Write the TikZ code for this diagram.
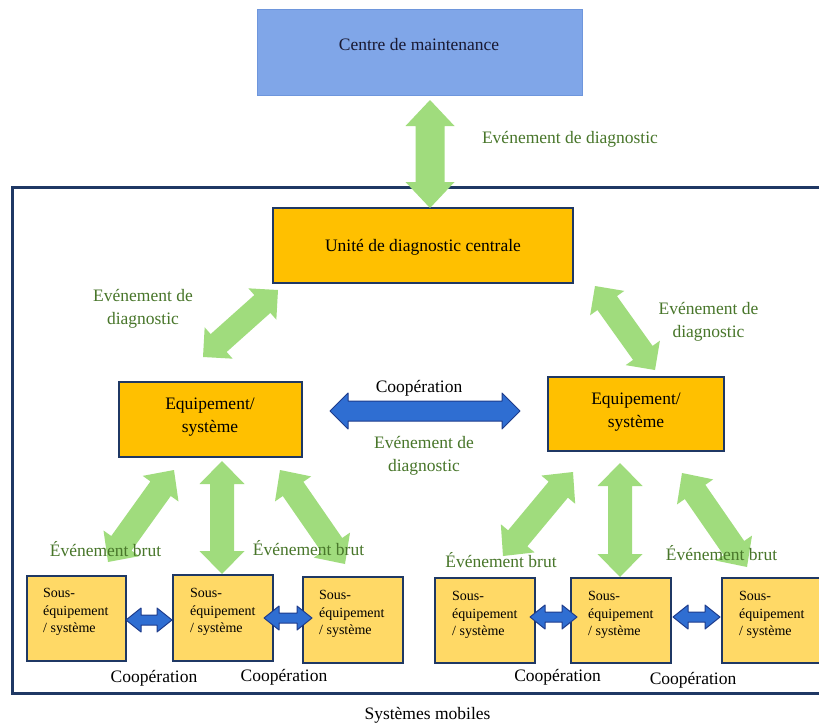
\documentclass[tikz,border=0pt]{standalone}
\usepackage{fontspec}
\setmainfont{Liberation Serif}
\usetikzlibrary{calc}
\definecolor{navy}{HTML}{1F3864}
\definecolor{gold}{HTML}{FFC000}
\definecolor{lgold}{HTML}{FFD966}
\definecolor{cmblue}{RGB}{128,166,232}
\definecolor{cmedge}{RGB}{110,150,220}
\definecolor{lgreen}{RGB}{160,220,125}
\definecolor{tgreen}{RGB}{72,118,42}
\definecolor{abluefill}{RGB}{47,110,210}
\definecolor{abluedge}{RGB}{30,60,140}
\definecolor{cmtext}{RGB}{25,25,50}
% double arrow polygon: #1 start, #2 end, #3 shaft half width, #4 head half width, #5 head length, #6 style
\newcommand\DArr[6]{%
  \path[#6] (#1)
    -- ($(#1)!#5!(#2)!#4!90:(#2)$)
    -- ($(#1)!#5!(#2)!#3!90:(#2)$)
    -- ($(#2)!#5!(#1)!#3!-90:(#1)$)
    -- ($(#2)!#5!(#1)!#4!-90:(#1)$)
    -- (#2)
    -- ($(#2)!#5!(#1)!#4!90:(#1)$)
    -- ($(#2)!#5!(#1)!#3!90:(#1)$)
    -- ($(#1)!#5!(#2)!#3!-90:(#2)$)
    -- ($(#1)!#5!(#2)!#4!-90:(#2)$)
    -- cycle;}
\begin{document}
\begin{tikzpicture}[x=1pt,y=-1pt,
  bigbox/.style={draw=navy, line width=2.8pt, fill=gold, inner sep=0pt},
  subbox/.style={draw=navy, line width=2.8pt, fill=lgold, inner sep=0pt},
  lbl/.style={font=\fontsize{17.5}{23}\selectfont, align=center, inner sep=0pt},
  glbl/.style={lbl, text=tgreen},
  subtxt/.style={font=\fontsize{14}{17.5}\selectfont, align=left, anchor=west, inner sep=0pt},
  garrow/.style={fill=lgreen},
  barrow/.style={fill=abluefill, draw=abluedge, line width=1pt, line join=round}]
\path[use as bounding box] (0,0) rectangle (819,725);
\clip (0,0) rectangle (819,725);
\fill[white] (0,0) rectangle (819,725);

% outer frame
\draw[navy, line width=3pt] (12,187) rectangle (840,693);

% boxes
\node[draw=cmedge, line width=1pt, fill=cmblue, minimum width=325, minimum height=85, inner sep=0pt] (cm) at (419.5,52.5) {};
\node[bigbox, minimum width=300, minimum height=75] (udc) at (423,245.5) {};
\node[bigbox, minimum width=183, minimum height=75] (eqL) at (210.5,419.5) {};
\node[bigbox, minimum width=176, minimum height=74] (eqR) at (636,414) {};
\node[subbox, minimum width=99, minimum height=85] (s1) at (76.5,618.5) {};
\node[subbox, minimum width=100, minimum height=86] (s2) at (223,618) {};
\node[subbox, minimum width=100, minimum height=86] (s3) at (353,620) {};
\node[subbox, minimum width=100, minimum height=85] (s4) at (485,620.5) {};
\node[subbox, minimum width=100, minimum height=85] (s5) at (621,620.5) {};
\node[subbox, minimum width=100, minimum height=85] (s6) at (772,620.5) {};

% arrow end points
\coordinate (g0a) at (430,100);  \coordinate (g0b) at (430,208);
\coordinate (g1a) at (203,357);  \coordinate (g1b) at (278,290);
\coordinate (g2a) at (595,286);  \coordinate (g2b) at (655,370);
\coordinate (l1a) at (108,562);  \coordinate (l1b) at (174,470);
\coordinate (l2a) at (222,461);  \coordinate (l2b) at (222,574);
\coordinate (l3a) at (280,470);  \coordinate (l3b) at (345,564);
\coordinate (r1a) at (503,556);  \coordinate (r1b) at (573,472);
\coordinate (r2a) at (620,463);  \coordinate (r2b) at (620,577);
\coordinate (r3a) at (682,473);  \coordinate (r3b) at (747,567);
\coordinate (bma) at (330,411);  \coordinate (bmb) at (520,411);
\coordinate (b1a) at (126,620);  \coordinate (b1b) at (172,620);
\coordinate (b2a) at (264,618);  \coordinate (b2b) at (312,618);
\coordinate (b3a) at (530,617);  \coordinate (b3b) at (577,617);
\coordinate (b4a) at (673,617);  \coordinate (b4b) at (720,617);

% green arrows
\DArr{g0a}{g0b}{14.5pt}{24.5pt}{26pt}{garrow}
\DArr{g1a}{g1b}{12pt}{21pt}{21pt}{garrow}
\DArr{g2a}{g2b}{12pt}{21pt}{21pt}{garrow}
\DArr{l1a}{l1b}{12.5pt}{22pt}{23pt}{garrow}
\DArr{l2a}{l2b}{12pt}{22.5pt}{23pt}{garrow}
\DArr{l3a}{l3b}{12.5pt}{22pt}{23pt}{garrow}
\DArr{r1a}{r1b}{12.5pt}{22pt}{23pt}{garrow}
\DArr{r2a}{r2b}{12pt}{22.5pt}{23pt}{garrow}
\DArr{r3a}{r3b}{12.5pt}{22pt}{23pt}{garrow}

% blue arrows
\DArr{bma}{bmb}{10pt}{18pt}{18pt}{barrow}
\DArr{b1a}{b1b}{5pt}{12pt}{15pt}{barrow}
\DArr{b2a}{b2b}{5pt}{12pt}{15pt}{barrow}
\DArr{b3a}{b3b}{5pt}{12pt}{15pt}{barrow}
\DArr{b4a}{b4b}{5pt}{12pt}{15pt}{barrow}

% box texts
\node[lbl, text=cmtext] (tcm) at (419,45) {Centre de maintenance};
\node[lbl] (tudc) at (423,247) {Unité de diagnostic centrale};
\node[lbl] (teqL) at (210,417) {Equipement/\\système};
\node[lbl] (teqR) at (636,412) {Equipement/\\système};
\node[subtxt] (ts1) at (43,612) {Sous-\\équipement\\/ système};
\node[subtxt] (ts2) at (190,612) {Sous-\\équipement\\/ système};
\node[subtxt] (ts3) at (319,614) {Sous-\\équipement\\/ système};
\node[subtxt] (ts4) at (452,615) {Sous-\\équipement\\/ système};
\node[subtxt] (ts5) at (588,615) {Sous-\\équipement\\/ système};
\node[subtxt] (ts6) at (739,615) {Sous-\\équipement\\/ système};

% labels
\node[glbl] (ltop) at (570,139) {Evénement de diagnostic};
\node[glbl] (lleft) at (143,309) {Evénement de\\diagnostic};
\node[glbl] (lright) at (708.5,322) {Evénement de\\diagnostic};
\node[lbl] (lcoop) at (419,388) {Coopération};
\node[glbl] (lmid) at (424,456) {Evénement de\\diagnostic};
\node[glbl] (lb1) at (105.5,549) {Événement brut};
\node[glbl] (lb2) at (308.5,548) {Événement brut};
\node[glbl] (lb3) at (501,560) {Événement brut};
\node[glbl] (lb4) at (721.5,553) {Événement brut};
\node[lbl] (lc1) at (154,678) {Coopération};
\node[lbl] (lc2) at (284,677) {Coopération};
\node[lbl] (lc3) at (557.5,677) {Coopération};
\node[lbl] (lc4) at (693,680) {Coopération};
\node[lbl] (lsys) at (427.5,715) {Systèmes mobiles};
\end{tikzpicture}
\end{document}
